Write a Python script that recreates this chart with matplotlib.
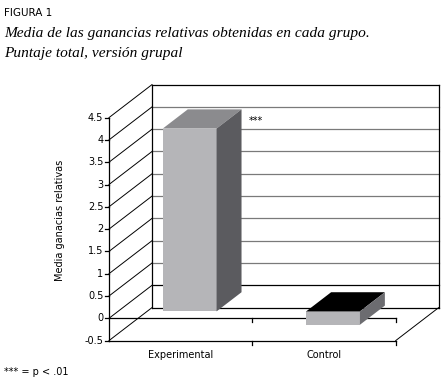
import numpy as np
import matplotlib.pyplot as plt
from matplotlib.patches import Polygon

# data
grupos = ['Experimental', 'Control']
medias = [4.1, -0.3]
ticks_y = [-0.5, 0, 0.5, 1, 1.5, 2, 2.5, 3, 3.5, 4, 4.5]
tick_labels = ['-0.5', '0', '0.5', '1', '1.5', '2', '2.5', '3', '3.5', '4', '4.5']

# fake 3d layout (in data units)
DX, DY = 0.30, 0.74        # depth offset of the back wall
F0, F1 = 0.21, 0.79        # bar depth (fraction of total depth)
ANCHO = 0.375              # bar width
YMIN, YMAX = -0.5, 4.5

W, H = 445, 386
fig = plt.figure(figsize=(W / 100, H / 100), dpi=100)
ax = fig.add_axes([0, 0, 1, 1])
ax.axis('off')
# pixel layout of the front plane: x=0 -> 109px, x=2 -> 395.7px ; y=0 -> 318.3px, 44.6 px/unit
px_cat = (395.7 - 109) / 2
px_val = 44.6
ax.set_xlim(-109 / px_cat, (W - 109) / px_cat)
ax.set_ylim((318.3 - H) / px_val, 318.3 / px_val)

GRID = '#7a7a7a'
lw = 0.9

# back wall gridlines
for v in ticks_y:
    col = 'black' if v in (YMIN, 0, YMAX) else GRID
    ax.plot([DX, 2 + DX], [v + DY, v + DY], color=col, lw=lw, zorder=1)
# back wall edges
ax.plot([DX, DX], [YMIN + DY, YMAX + DY], color='black', lw=lw, zorder=1)
ax.plot([2 + DX, 2 + DX], [YMIN + DY, YMAX + DY], color='black', lw=lw, zorder=1)

# left wall diagonals and front axis with ticks
for v, lab in zip(ticks_y, tick_labels):
    ax.plot([0, DX], [v, v + DY], color='black', lw=0.7, zorder=1)
    ax.plot([-0.025, 0], [v, v], color='black', lw=lw, zorder=2)
    ax.text(-0.04, v, lab, ha='right', va='center', fontsize=7, zorder=3)
ax.plot([0, 0], [YMIN, YMAX], color='black', lw=lw, zorder=2)

# floor
ax.plot([0, 2], [YMIN, YMIN], color='black', lw=lw, zorder=2)
ax.plot([2, 2 + DX], [YMIN, YMIN + DY], color='black', lw=0.7, zorder=2)
# front zero line
ax.plot([0, 2], [0, 0], color='black', lw=lw, zorder=2)
# category ticks
for xc in [1, 2]:
    for yb in [YMIN, 0]:
        ax.plot([xc, xc], [yb, yb - 0.09], color='black', lw=lw, zorder=2)

# bars
FRENTE = '#b5b5b8'
caras_sup = ['#8b8b8e', '#000000']
caras_lat = ['#5b5b5f', '#6c6c70']
for i, (g, v) in enumerate(zip(grupos, medias)):
    c = i + 0.5
    x0 = c - ANCHO / 2 + F0 * DX
    x1 = c + ANCHO / 2 + F0 * DX
    y0 = F0 * DY
    lo, hi = min(0, v), max(0, v)
    ddx, ddy = (F1 - F0) * DX, (F1 - F0) * DY
    front = [(x0, lo + y0), (x1, lo + y0), (x1, hi + y0), (x0, hi + y0)]
    top = [(x0, hi + y0), (x1, hi + y0), (x1 + ddx, hi + y0 + ddy), (x0 + ddx, hi + y0 + ddy)]
    side = [(x1, lo + y0), (x1 + ddx, lo + y0 + ddy), (x1 + ddx, hi + y0 + ddy), (x1, hi + y0)]
    ax.add_patch(Polygon(front, closed=True, fc=FRENTE, ec='none', zorder=4))
    ax.add_patch(Polygon(top, closed=True, fc=caras_sup[i], ec='none', zorder=4))
    ax.add_patch(Polygon(side, closed=True, fc=caras_lat[i], ec='none', zorder=4))
    ax.text(c, -0.82, g, ha='center', va='center', fontsize=7)

ax.text(0.977, 4.42, '***', ha='left', va='center', fontsize=7)
ax.text(-0.342, 2.2, 'Media ganacias relativas', rotation=90, ha='center', va='center', fontsize=7)

# titles
fig.text(4 / W, 1 - 16 / H, 'FIGURA 1', fontsize=7.5, va='baseline', ha='left')
fig.text(4 / W, 1 - 37.5 / H, 'Media de las ganancias relativas obtenidas en cada grupo.',
         fontsize=11.1, style='italic', family='Liberation Serif', va='baseline', ha='left')
fig.text(4 / W, 1 - 57.5 / H, 'Puntaje total, versión grupal',
         fontsize=11.1, style='italic', family='Liberation Serif', va='baseline', ha='left')
fig.text(4 / W, 1 - 375 / H, '*** = p < .01', fontsize=7, va='baseline', ha='left')

fig.savefig('out.png', dpi=100)
